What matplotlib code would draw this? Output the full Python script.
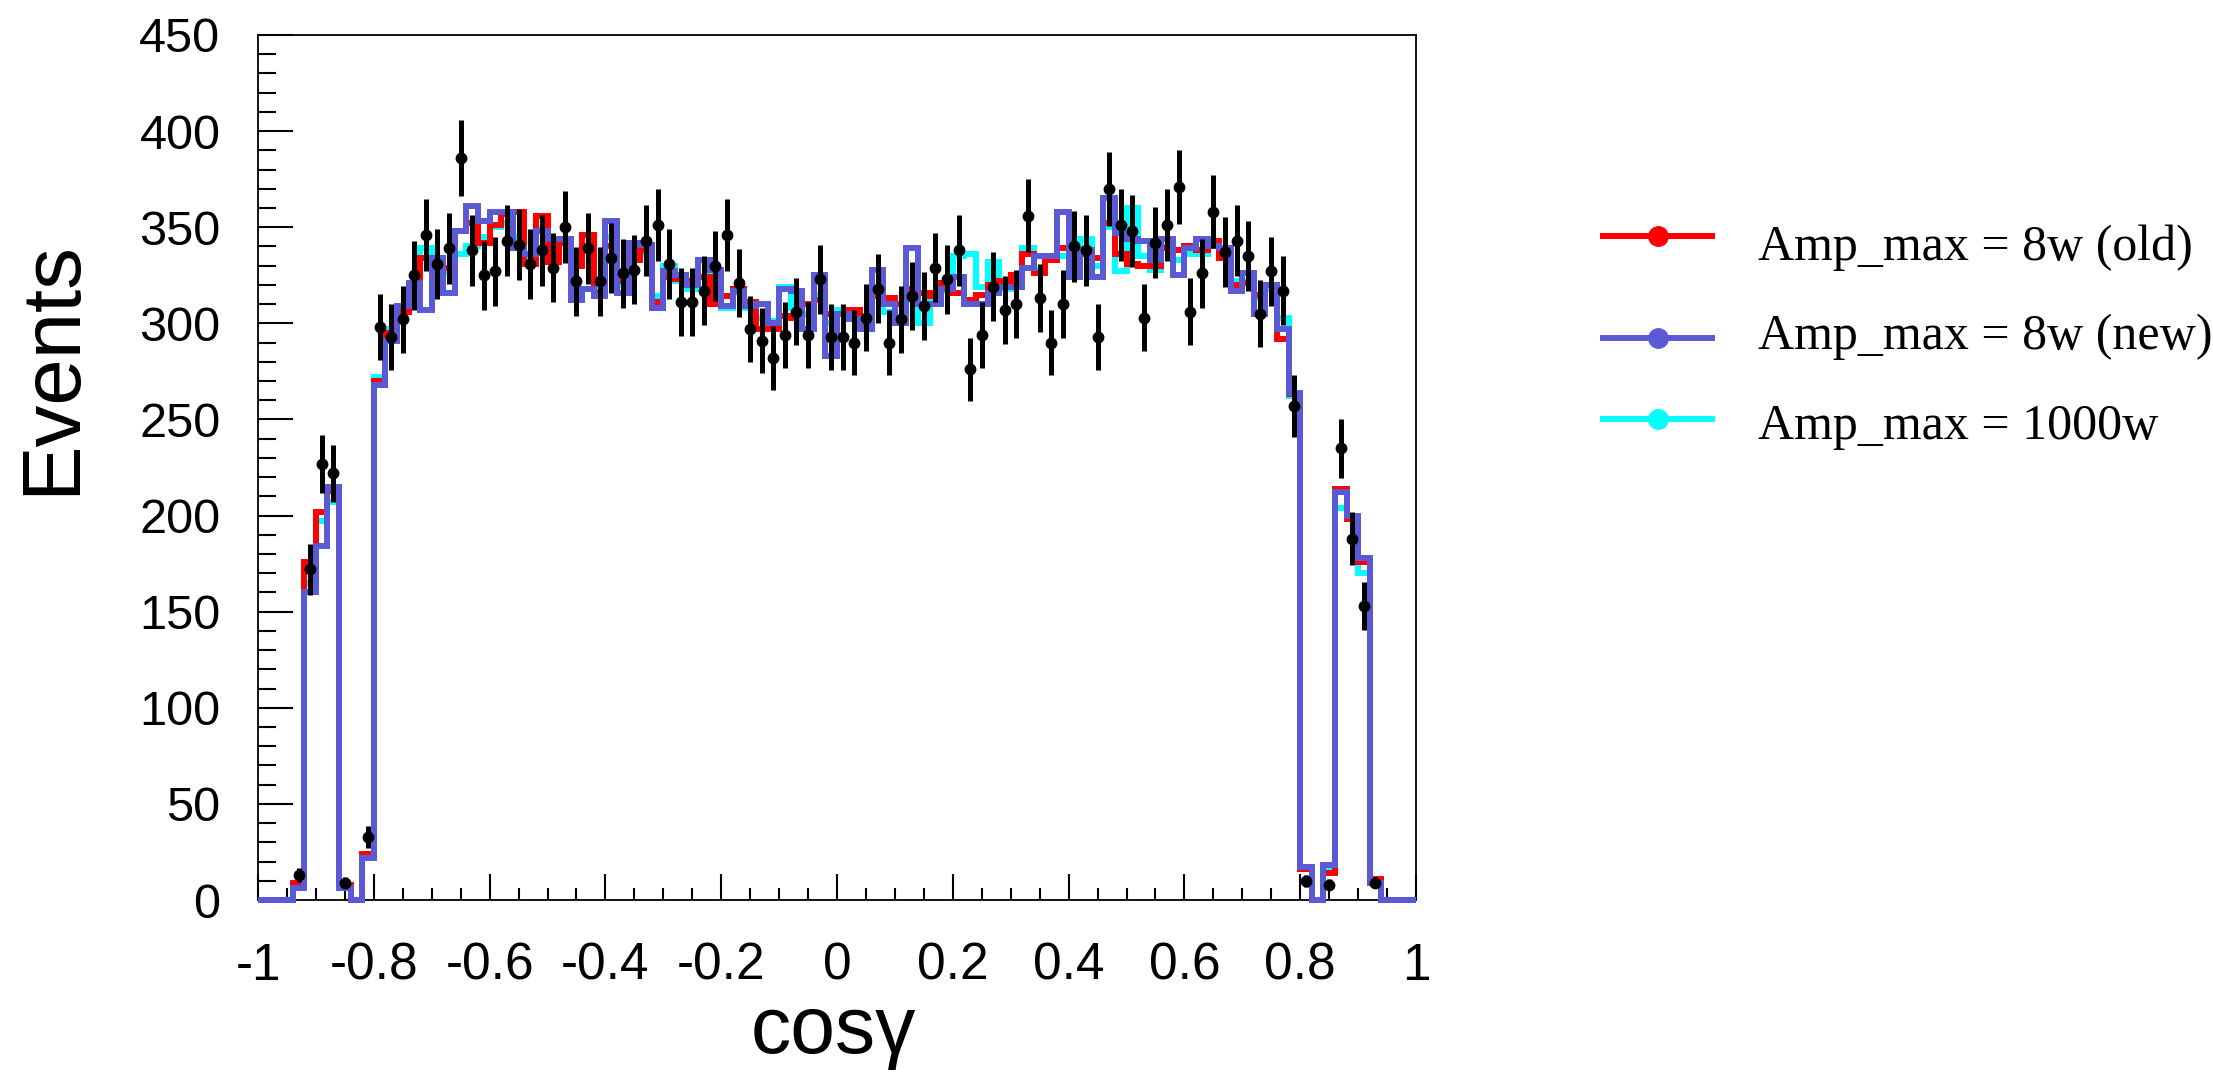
import numpy as np
import matplotlib
matplotlib.use('Agg')
import matplotlib.pyplot as plt
from matplotlib.lines import Line2D
from matplotlib.ticker import MultipleLocator, FuncFormatter

plt.rcParams['axes.unicode_minus'] = False

# 100 bins from -1 to 1
bin_edges = np.linspace(-1, 1, 101)
bin_centers = 0.5 * (bin_edges[:-1] + bin_edges[1:])

# data (black points)
data_counts = [
    0, 0, 0, 13, 172, 227, 222, 9, 0, 33,
    298, 293, 302, 325, 346, 331, 339, 386, 338, 325,
    327, 343, 341, 331, 338, 329, 350, 322, 339, 322,
    334, 326, 328, 343, 351, 331, 311, 311, 317, 330,
    346, 321, 297, 291, 282, 294, 306, 294, 323, 293,
    293, 290, 303, 318, 290, 302, 314, 309, 329, 323,
    338, 276, 294, 319, 307, 310, 356, 313, 290, 310,
    340, 338, 293, 370, 351, 348, 303, 342, 351, 371,
    306, 326, 358, 337, 343, 335, 305, 327, 317, 257,
    10, 0, 8, 235, 188, 153, 9, 0, 0, 0,
]

# Amp_max = 8w (old)
amp_8w_old = [
    0, 0, 0, 9, 176, 202, 213, 8, 0, 24,
    270, 295, 306, 319, 334, 334, 329, 348, 352, 342,
    351, 357, 358, 331, 356, 332, 342, 330, 346, 316,
    340, 322, 333, 338, 311, 324, 323, 322, 324, 310,
    314, 318, 311, 297, 297, 304, 303, 310, 312, 305,
    305, 307, 300, 314, 313, 310, 318, 316, 314, 321,
    316, 312, 315, 320, 322, 325, 336, 326, 333, 339,
    324, 336, 334, 352, 336, 331, 330, 330, 339, 338,
    340, 338, 343, 334, 320, 321, 315, 320, 292, 263,
    16, 0, 14, 214, 198, 176, 11, 0, 0, 0,
]

# Amp_max = 8w (new)
amp_8w_new = [
    0, 0, 0, 6, 160, 184, 215, 6, 0, 22,
    268, 291, 309, 321, 307, 334, 316, 348, 361, 353,
    358, 358, 339, 336, 348, 344, 344, 312, 318, 314,
    353, 316, 342, 341, 308, 327, 325, 320, 333, 328,
    309, 317, 309, 310, 300, 318, 317, 297, 325, 283,
    305, 302, 297, 328, 310, 300, 339, 310, 310, 318,
    324, 310, 310, 316, 319, 319, 329, 335, 335, 358,
    324, 338, 324, 365, 347, 344, 343, 333, 344, 325,
    339, 344, 340, 339, 317, 326, 305, 320, 297, 264,
    17, 0, 18, 212, 200, 178, 9, 0, 0, 0,
]

# Amp_max = 1000w
amp_1000w = [
    0, 0, 0, 7, 165, 197, 207, 7, 0, 23,
    272, 297, 307, 320, 339, 333, 326, 336, 340, 345,
    350, 352, 345, 333, 349, 338, 342, 335, 340, 318,
    345, 320, 335, 336, 314, 330, 322, 318, 333, 318,
    308, 316, 308, 303, 301, 319, 308, 305, 315, 300,
    307, 303, 298, 318, 306, 303, 312, 300, 312, 317,
    335, 336, 319, 332, 318, 320, 339, 328, 335, 335,
    328, 344, 330, 350, 327, 360, 335, 328, 340, 333,
    336, 336, 341, 336, 322, 322, 313, 318, 303, 262,
    16, 0, 16, 204, 199, 170, 9, 0, 0, 0,
]

legend_labels = ['Amp_max = 8w (old)', 'Amp_max = 8w (new)', 'Amp_max = 1000w']
red = '#ff0000'
blue = '#5a5ad6'
cyan = '#00ffff'

W, H = 2213, 1075
fig = plt.figure(figsize=(W / 100, H / 100), dpi=100)
ax = fig.add_axes([258 / W, 1 - 900 / H, (1416 - 258) / W, (900 - 35) / H])

ax.stairs(amp_1000w, bin_edges, color=cyan, lw=4.3, baseline=None, clip_on=False, zorder=2)
ax.stairs(amp_8w_old, bin_edges, color=red, lw=4.3, baseline=None, clip_on=False, zorder=3)
ax.stairs(amp_8w_new, bin_edges, color=blue, lw=4.3, baseline=None, clip_on=False, zorder=4)

counts = np.array(data_counts, dtype=float)
nz = counts > 0
ax.errorbar(bin_centers[nz], counts[nz], yerr=np.sqrt(counts[nz]), fmt='o', color='black',
            ms=7.5, elinewidth=3.6, capsize=0, zorder=5, clip_on=False)

ax.set_xlim(-1, 1)
ax.set_ylim(0, 450)
ax.xaxis.set_major_locator(MultipleLocator(0.2))
ax.xaxis.set_minor_locator(MultipleLocator(0.05))
ax.yaxis.set_major_locator(MultipleLocator(50))
ax.yaxis.set_minor_locator(MultipleLocator(10))


def fmt_x(v, pos):
    if abs(v) < 1e-9:
        return '0'
    return '%g' % round(v, 2)


ax.xaxis.set_major_formatter(FuncFormatter(fmt_x))

ax.tick_params(which='both', direction='in', top=False, right=False, width=1.5,
               labelfontfamily='Liberation Sans')
ax.tick_params(axis='y', which='major', length=25, pad=27, labelsize=35)
ax.tick_params(axis='y', which='minor', length=13)
ax.tick_params(axis='x', which='major', length=19, pad=30, labelsize=37)
ax.tick_params(axis='x', which='minor', length=9)
for s in ax.spines.values():
    s.set_linewidth(1.3)

fig.text(52 / W, 1 - 368 / H, 'Events', rotation=90, ha='center', va='center',
         fontsize=60, family='Liberation Sans')
fig.text(833 / W, 1 - 1053 / H, 'cos\u03b3', ha='center', va='baseline',
         fontsize=58, family='Liberation Sans')

# legend drawn by hand, rows are not evenly spaced in the original
line_rows = [236, 338, 419]
text_baselines = [260, 349, 439]
for y, yb, c, lab in zip(line_rows, text_baselines, [red, blue, cyan], legend_labels):
    yy = 1 - y / H
    fig.add_artist(Line2D([1603 / W, 1712 / W], [yy, yy], color=c, lw=4.3))
    fig.add_artist(Line2D([1658 / W], [yy], color=c, marker='o', ms=14, lw=0))
    fig.text(1758 / W, 1 - yb / H, lab, ha='left', va='baseline', fontsize=36,
             family='Liberation Serif')

fig.savefig('out.png', dpi=100)
